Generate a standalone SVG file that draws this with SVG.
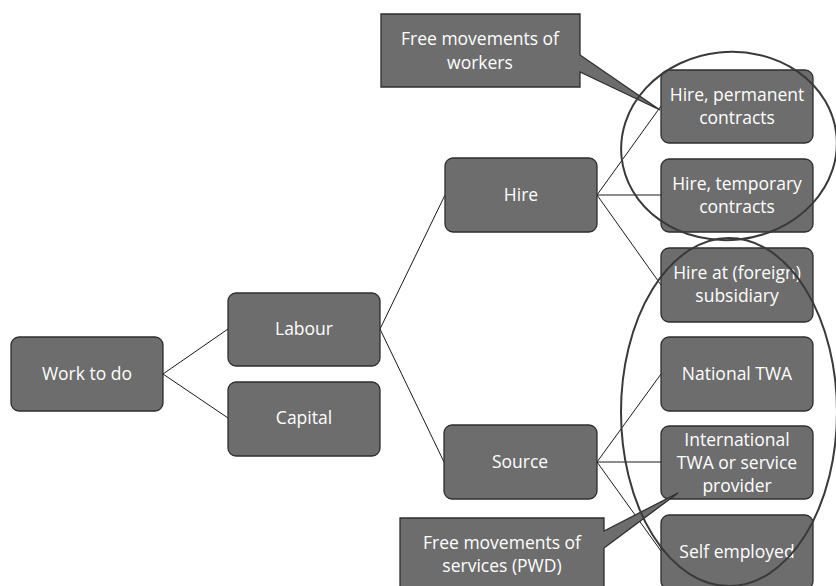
<svg xmlns="http://www.w3.org/2000/svg" width="836" height="586" viewBox="0 0 836 586">
<style>
.box{fill:#6d6d6d;stroke:#2e2e2e;stroke-width:1.3}
.call{fill:#6d6d6d;stroke:#2e2e2e;stroke-width:1.3}
.t{font-family:"Open Sans","Liberation Sans",sans-serif;font-size:17.5px;fill:#ffffff;text-anchor:middle}
.c{stroke:#1a1a1a;stroke-width:1;fill:none}
.e{fill:none;stroke:#3a3a3a;stroke-width:2}
</style>
<rect width="836" height="586" fill="#ffffff"/>
<g id="connectors">
<line class="c" x1="163" y1="374" x2="228" y2="329"/>
<line class="c" x1="163" y1="374" x2="228" y2="418"/>
<line class="c" x1="380" y1="329" x2="445" y2="195"/>
<line class="c" x1="380" y1="329" x2="444" y2="462"/>
<line class="c" x1="597" y1="195" x2="661" y2="106"/>
<line class="c" x1="597" y1="195" x2="661" y2="195"/>
<line class="c" x1="597" y1="195" x2="661" y2="285"/>
<line class="c" x1="597" y1="462" x2="661" y2="374"/>
<line class="c" x1="597" y1="462" x2="661" y2="462"/>
<line class="c" x1="597" y1="462" x2="661" y2="551"/>
</g>
<g id="work"><rect class="box" x="11" y="337" width="152" height="74" rx="8"/><text class="t" x="87" y="380">Work to do</text></g>
<g id="labour"><rect class="box" x="228" y="293" width="152" height="73" rx="8"/><text class="t" x="304" y="335">Labour</text></g>
<g id="capital"><rect class="box" x="228" y="382" width="152" height="74" rx="8"/><text class="t" x="304" y="424">Capital</text></g>
<g id="hire"><rect class="box" x="445" y="158" width="152" height="74" rx="8"/><text class="t" x="521" y="201">Hire</text></g>
<g id="source"><rect class="box" x="444" y="425" width="153" height="74" rx="8"/><text class="t" x="520" y="468">Source</text></g>
<g id="hire-permanent"><rect class="box" x="661" y="70" width="152" height="73" rx="8"/><text class="t" x="737" y="101">Hire, permanent</text><text class="t" x="737" y="124">contracts</text></g>
<g id="hire-temporary"><rect class="box" x="661" y="159" width="152" height="73" rx="8"/><text class="t" x="737" y="190">Hire, temporary</text><text class="t" x="737" y="213">contracts</text></g>
<g id="hire-subsidiary"><rect class="box" x="661" y="248" width="152" height="74" rx="8"/><text class="t" x="737" y="279">Hire at (foreign)</text><text class="t" x="737" y="302">subsidiary</text></g>
<g id="national-twa"><rect class="box" x="661" y="337" width="152" height="74" rx="8"/><text class="t" x="737" y="380">National TWA</text></g>
<g id="international-twa"><rect class="box" x="661" y="426" width="152" height="73" rx="8"/><text class="t" x="737" y="446">International</text><text class="t" x="737" y="469">TWA or service</text><text class="t" x="737" y="492">provider</text></g>
<g id="self-employed"><rect class="box" x="661" y="515" width="152" height="74" rx="8"/><text class="t" x="737" y="558">Self employed</text></g>
<g id="callout-workers"><polygon class="call" points="381,14 580,14 580,55 660,110 580,72 580,87 381,87"/><text class="t" x="480" y="45">Free movements of</text><text class="t" x="480" y="69">workers</text></g>
<g id="callout-services"><polygon class="call" points="400,518 604,518 604,531 678,493 604,548 604,590 400,590"/><text class="t" x="502" y="549">Free movements of</text><text class="t" x="502" y="572">services (PWD)</text></g>
<g id="groups">
<ellipse class="e" cx="729" cy="146" rx="108" ry="94" transform="rotate(-6 729 146)"/>
<ellipse class="e" cx="729" cy="412" rx="108" ry="174"/>
</g>
</svg>
